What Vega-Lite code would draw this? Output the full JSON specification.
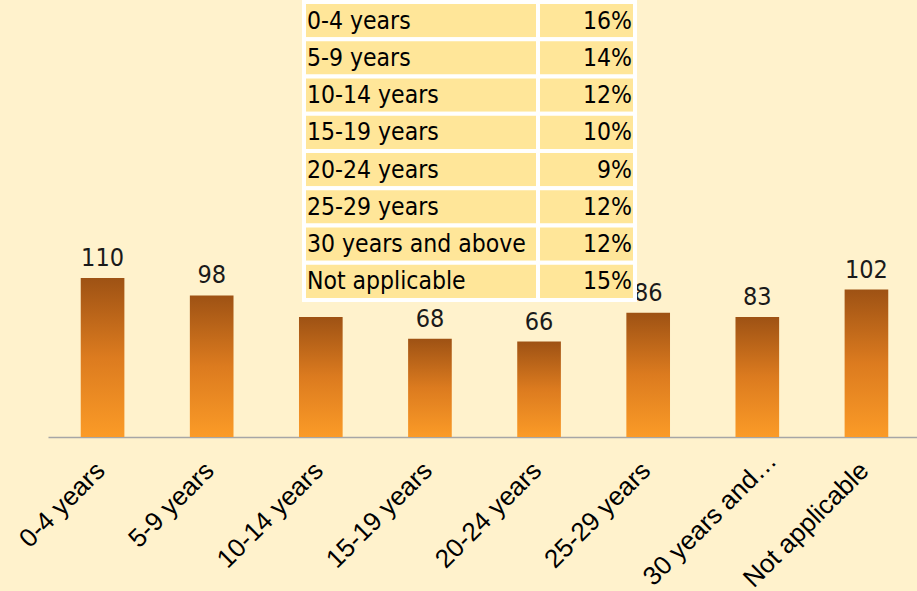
{
  "$schema": "https://vega.github.io/schema/vega-lite/v6.json",
  "width": 873,
  "height": 437,
  "autosize": {"type": "none"},
  "padding": {"left": 48, "top": 0, "right": 0, "bottom": 154},
  "background": "#FFF2CC",
  "config": {"view": {"stroke": null}},
  "data": {
    "values": [
      {"category": "0-4 years", "count": 110, "pct": "16%"},
      {"category": "5-9 years", "count": 98, "pct": "14%"},
      {"category": "10-14 years", "count": 83, "pct": "12%"},
      {"category": "15-19 years", "count": 68, "pct": "10%"},
      {"category": "20-24 years", "count": 66, "pct": "9%"},
      {"category": "25-29 years", "count": 86, "pct": "12%"},
      {"category": "30 years and above", "count": 83, "pct": "12%"},
      {"category": "Not applicable", "count": 102, "pct": "15%"}
    ]
  },
  "layer": [
    {
      "encoding": {
        "x": {
          "field": "category",
          "type": "nominal",
          "sort": null,
          "scale": {"paddingInner": 0.6, "paddingOuter": 0.3},
          "axis": {
            "title": null,
            "labelAngle": -45,
            "labelFont": "Liberation Sans",
            "labelFontSize": 26,
            "labelColor": "#000000",
            "labelLimit": 180,
            "labelPadding": {"condition": {"test": "datum.value === '30 years and above'", "value": 10}, "value": 20},
            "labelOffset": {"condition": {"test": "datum.value === '30 years and above'", "value": 6}, "value": -11},
            "ticks": false,
            "domainColor": "#A6A6A6",
            "domainWidth": 1.5
          }
        },
        "y": {
          "field": "count",
          "type": "quantitative",
          "scale": {"domain": [0, 302.4], "nice": false, "zero": true},
          "axis": null
        }
      },
      "layer": [
        {
          "mark": {
            "type": "bar",
            "color": {
              "gradient": "linear",
              "x1": 0, "y1": 0, "x2": 0, "y2": 1,
              "stops": [
                {"offset": 0, "color": "#9E5214"},
                {"offset": 0.5, "color": "#DC7B1F"},
                {"offset": 1, "color": "#FB9B27"}
              ]
            }
          }
        },
        {
          "transform": [{"filter": "datum.category !== '10-14 years'"}],
          "mark": {
            "type": "text",
            "baseline": "alphabetic",
            "dy": -12,
            "font": "'DejaVu Sans Condensed', Roboto",
            "fontSize": 25,
            "color": "#1A1A1A"
          },
          "encoding": {"text": {"field": "count", "type": "quantitative"}}
        }
      ]
    },
    {
      "encoding": {
        "y": {
          "field": "category",
          "type": "nominal",
          "sort": null,
          "scale": {"range": [2, 300], "paddingInner": 0, "paddingOuter": 0},
          "axis": null
        }
      },
      "layer": [
        {
          "mark": {"type": "rect", "fill": "#FFE699", "stroke": "#FFFFFF", "strokeWidth": 4},
          "encoding": {
            "x": {"datum": 0, "type": "quantitative", "scale": {"domain": [0, 331], "range": [256, 587], "nice": false, "zero": false}, "axis": null},
            "x2": {"datum": 234}
          }
        },
        {
          "mark": {"type": "rect", "fill": "#FFE699", "stroke": "#FFFFFF", "strokeWidth": 4},
          "encoding": {
            "x": {"datum": 234, "type": "quantitative"},
            "x2": {"datum": 331}
          }
        },
        {
          "mark": {"type": "text", "align": "left", "baseline": "middle", "dy": 1, "font": "'DejaVu Sans Condensed', Roboto", "fontSize": 24.5, "color": "#000000"},
          "encoding": {
            "x": {"datum": 3, "type": "quantitative"},
            "text": {"field": "category"}
          }
        },
        {
          "mark": {"type": "text", "align": "right", "baseline": "middle", "dy": 1, "font": "'DejaVu Sans Condensed', Roboto", "fontSize": 24.5, "color": "#000000"},
          "encoding": {
            "x": {"datum": 328, "type": "quantitative"},
            "text": {"field": "pct"}
          }
        }
      ]
    }
  ],
  "resolve": {"scale": {"x": "independent", "y": "independent"}}
}
